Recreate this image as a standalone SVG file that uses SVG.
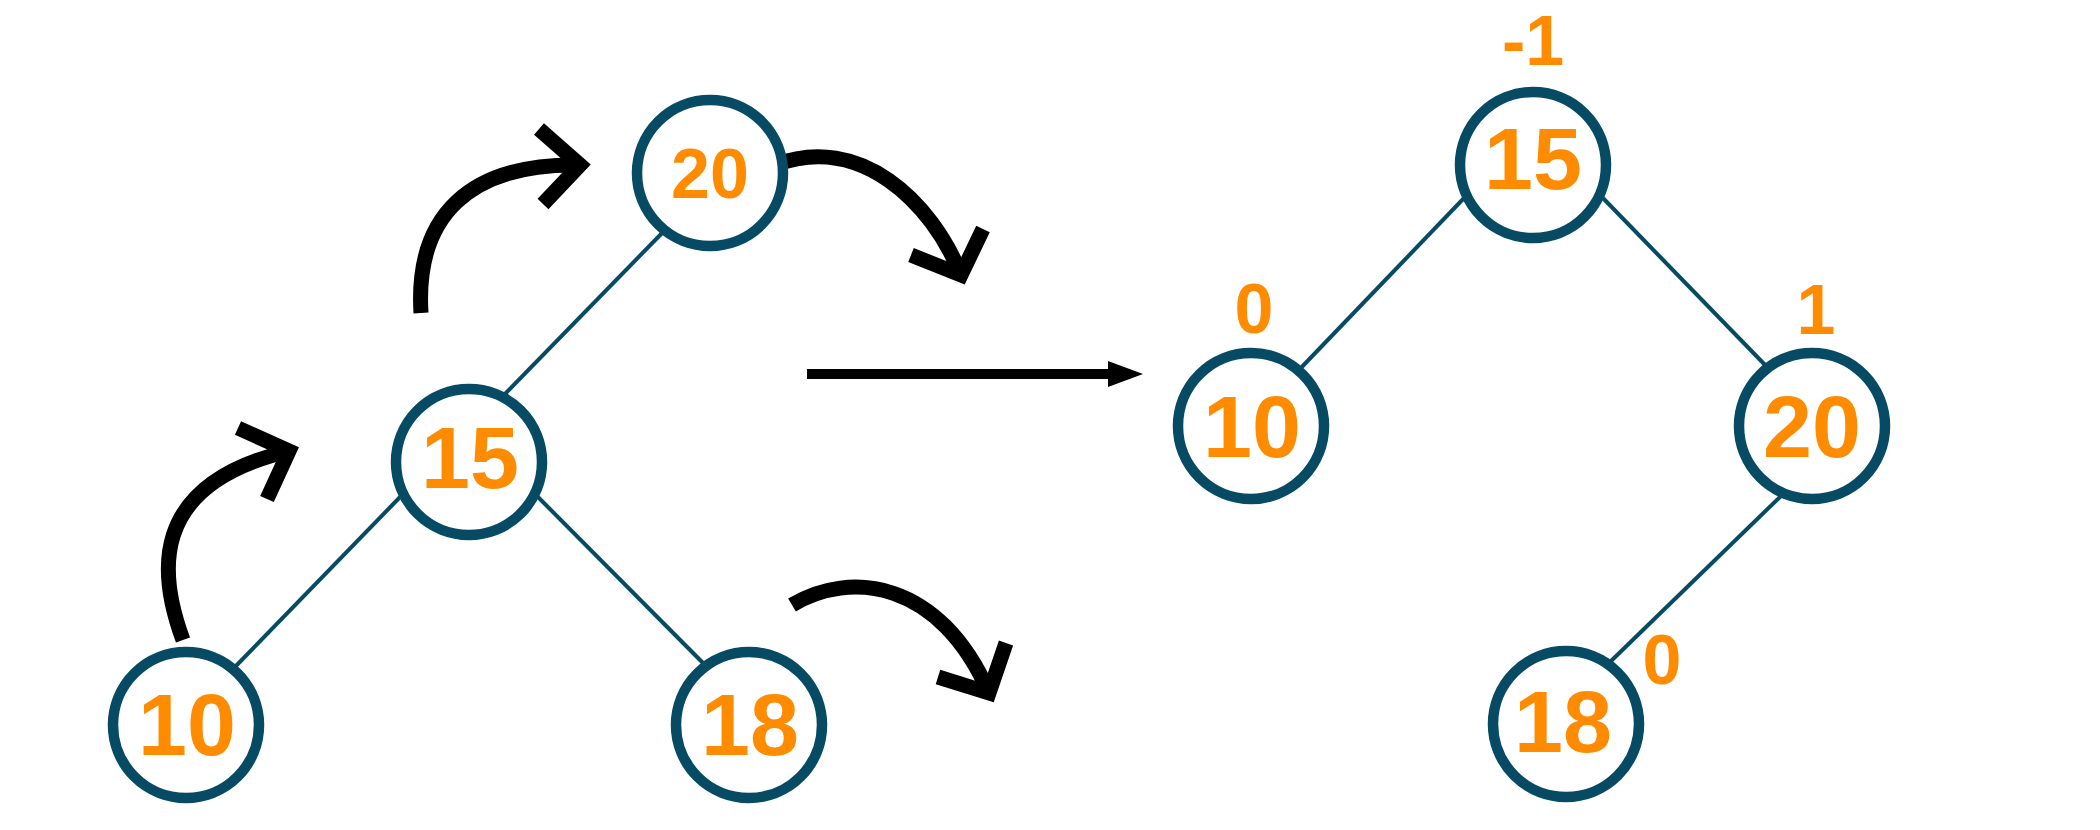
<svg xmlns="http://www.w3.org/2000/svg" width="2100" height="830" viewBox="0 0 2100 830">
<style>
.edge{stroke:#064B63;stroke-width:4;fill:none}
.ring{fill:#ffffff;stroke:#064B63;stroke-width:10.5}
.num{font-family:"Liberation Sans",Arial,sans-serif;font-weight:bold;fill:#FF8C00;text-anchor:middle}
.big{font-size:88px}
.small{font-size:70px}
.rot{stroke:#000;stroke-width:15;fill:none;stroke-linecap:butt}
.head{stroke:#000;stroke-width:15;fill:none;stroke-linejoin:miter;stroke-miterlimit:10;stroke-linecap:butt}
</style>
<rect width="2100" height="830" fill="#ffffff"/>
<g id="connectors">
  <line class="edge" x1="666" y1="229" x2="501" y2="398"/>
  <line class="edge" x1="403" y1="494" x2="232" y2="670"/>
  <line class="edge" x1="535" y1="494" x2="706" y2="666"/>
  <line class="edge" x1="1466" y1="196" x2="1297" y2="372"/>
  <line class="edge" x1="1600" y1="195" x2="1769" y2="369"/>
  <line class="edge" x1="1783" y1="494" x2="1609" y2="663"/>
</g>
<g id="rotations">
  <path class="rot" d="M183,640 C160,578 145,485 289,451"/>
  <polyline class="head" points="238,428 289,451 267,499"/>
  <path class="rot" d="M421,313 C415,215 470,163 580,165"/>
  <polyline class="head" points="539,129 580,165 543,204"/>
  <path class="rot" d="M775,165 C860,133 931,201 961,275"/>
  <polyline class="head" points="911,255 961,275 983,229"/>
  <path class="rot" d="M792,605 C850,570 940,580 989,693"/>
  <polyline class="head" points="938,677 989,693 1006,643"/>
  <line x1="807" y1="374" x2="1110" y2="374" stroke="#000" stroke-width="10"/>
  <polygon points="1108,361 1143,374 1108,387" fill="#000"/>
</g>
<g id="node-20-left">
  <circle class="ring" cx="710" cy="173" r="73"/>
  <text class="num small" x="710" y="198">20</text>
</g>
<g id="node-15-left">
  <circle class="ring" cx="469" cy="462" r="73"/>
  <text class="num big" x="470" y="488">15</text>
</g>
<g id="node-10-left">
  <circle class="ring" cx="186" cy="725" r="73"/>
  <text class="num big" x="187" y="755">10</text>
</g>
<g id="node-18-left">
  <circle class="ring" cx="749" cy="725" r="73"/>
  <text class="num big" x="750" y="755">18</text>
</g>
<g id="node-15-right">
  <circle class="ring" cx="1533" cy="165" r="73"/>
  <text class="num big" x="1533" y="189">15</text>
  <text class="num small" x="1533" y="65">-1</text>
</g>
<g id="node-10-right">
  <circle class="ring" cx="1251" cy="426" r="73"/>
  <text class="num big" x="1252" y="457">10</text>
  <text class="num small" x="1254" y="333">0</text>
</g>
<g id="node-20-right">
  <circle class="ring" cx="1812" cy="426" r="73"/>
  <text class="num big" x="1812" y="457">20</text>
  <text class="num small" x="1816" y="334">1</text>
</g>
<g id="node-18-right">
  <circle class="ring" cx="1566" cy="724" r="73"/>
  <text class="num big" x="1563" y="752">18</text>
  <text class="num small" x="1662" y="684">0</text>
</g>
</svg>
